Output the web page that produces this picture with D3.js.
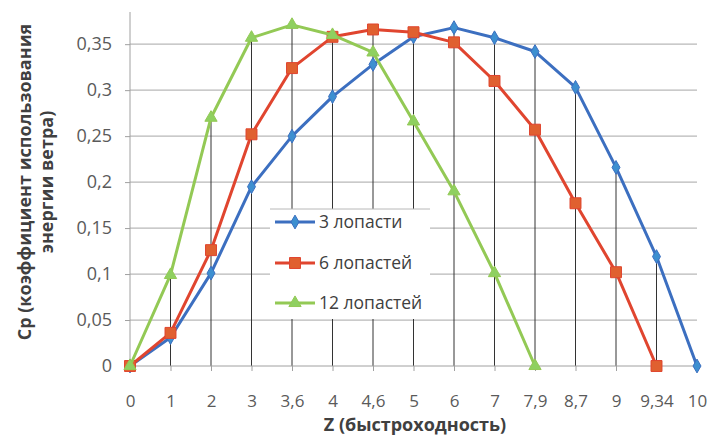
<!DOCTYPE html>
<html><head><meta charset="utf-8">
<script src="https://cdn.jsdelivr.net/npm/d3@7"></script>
<style>body{margin:0;background:#fff}svg{display:block}text{font-family:"Open Sans","Liberation Sans",sans-serif}</style>
</head><body><svg id="c" width="713" height="435"></svg>
<script>
const categories = ["0","1","2","3","3,6","4","4,6","5","6","7","7,9","8,7","9","9,34","10"];
const blades3  = [0,0.031,0.101,0.195,0.25,0.293,0.328,0.358,0.368,0.357,0.342,0.303,0.216,0.119,0];
const blades6  = [0,0.036,0.126,0.252,0.324,0.358,0.366,0.363,0.352,0.31,0.257,0.177,0.102,0,null];
const blades12 = [0,0.099,0.27,0.357,0.371,0.36,0.341,0.266,0.19,0.101,0,null,null,null,null];
const yTicks = [0,0.05,0.1,0.15,0.2,0.25,0.3,0.35];
const yTickLabels = ["0","0,05","0,1","0,15","0,2","0,25","0,3","0,35"];
const seriesNames = ["3 лопасти","6 лопастей","12 лопастей"];
const seriesColors = ["#3c6fc0","#e0452f","#93c955"];
const markerColors = ["#3d8fd0","#e06030","#8fd060"];
const seriesData = [blades3, blades6, blades12];

const svg = d3.select("#c");
const x = d3.scalePoint().domain(categories).range([130, 697]);
const y = d3.scaleLinear().domain([0, 0.385]).range([366, 12]);

// horizontal gridlines
svg.append("g").selectAll("line").data(yTicks.slice(1)).join("line")
  .attr("x1", 130).attr("x2", 697).attr("y1", d=>y(d)).attr("y2", d=>y(d))
  .attr("stroke", "#b8b8b8").attr("stroke-width", 1.2);

// drop lines
const maxv = categories.map((c,i)=>d3.max(seriesData, s=>s[i]));
svg.append("g").selectAll("line").data(categories).join("line")
  .attr("x1", d=>x(d)).attr("x2", d=>x(d)).attr("y1", (d,i)=>y(maxv[i])).attr("y2", y(0))
  .attr("stroke", "#333").attr("stroke-width", 1);

// y axis
const ya = d3.axisLeft(y).tickValues(yTicks).tickFormat((d,i)=>yTickLabels[i]).tickSize(5).tickPadding(13);
const yg = svg.append("g").attr("transform","translate(130,0)").call(ya);
yg.select(".domain").remove();
yg.append("line").attr("x1",0).attr("x2",0).attr("y1",12).attr("y2",366).attr("stroke","#a0a0a0");
yg.selectAll(".tick line").attr("stroke","#a0a0a0");
yg.selectAll(".tick text").attr("fill","#5a5a5a").style("font-size","18px");

// x axis
const xa = d3.axisBottom(x).tickSize(5).tickPadding(24);
const xg = svg.append("g").attr("transform","translate(0,366)").call(xa);
xg.select(".domain").remove();
xg.append("line").attr("x1",130).attr("x2",697).attr("stroke","#a0a0a0");
xg.selectAll(".tick line").attr("stroke","#a0a0a0");
xg.selectAll(".tick text").attr("fill","#5a5a5a").style("font-size","17px");

// series lines
const line = d3.line().defined(d=>d.v!=null).x(d=>x(d.c)).y(d=>y(d.v));
const sym = [d3.symbolDiamond, d3.symbolSquare, d3.symbolTriangle];
const symSize = [55, 120, 65];
seriesData.forEach((s,k)=>{
  const pts = categories.map((c,i)=>({c, v:s[i]})).filter(d=>d.v!=null);
  svg.append("path").datum(pts).attr("d", line).attr("fill","none")
    .attr("stroke", seriesColors[k]).attr("stroke-width", 3).attr("stroke-linejoin","round");
  svg.append("g").selectAll("path").data(pts).join("path")
    .attr("transform", d=>`translate(${x(d.c)},${y(d.v)})`)
    .attr("d", d3.symbol().type(sym[k]).size(symSize[k]))
    .attr("fill", markerColors[k]).attr("stroke", seriesColors[k]).attr("stroke-width",1);
});

// legend
const lg = svg.append("g");
lg.append("rect").attr("x",270).attr("y",209).attr("width",160).attr("height",110).attr("fill","#fff");
lg.append("line").attr("x1",270).attr("x2",430).attr("y1",209).attr("y2",209).attr("stroke","#b8b8b8");
const ly = [222, 263, 303];
seriesNames.forEach((n,k)=>{
  lg.append("line").attr("x1",275).attr("x2",315).attr("y1",ly[k]).attr("y2",ly[k])
    .attr("stroke",seriesColors[k]).attr("stroke-width",3);
  lg.append("path").attr("transform",`translate(295,${ly[k]})`)
    .attr("d", d3.symbol().type(sym[k]).size(symSize[k]))
    .attr("fill", markerColors[k]).attr("stroke", seriesColors[k]);
  lg.append("text").attr("x",319).attr("y",ly[k]).attr("dy","0.35em")
    .attr("fill","#404040").style("font-size","17.5px").text(n);
});

// axis titles
svg.append("text").attr("x",415).attr("y",431).attr("text-anchor","middle")
  .attr("fill","#404040").style("font-size","18px").style("font-weight","bold").text("Z (быстроходность)");
const yt = svg.append("text").attr("transform","translate(0,182) rotate(-90)")
  .attr("text-anchor","middle").attr("fill","#404040").style("font-size","18px").style("font-weight","bold");
yt.append("tspan").attr("x",0).attr("y",31).text("Ср (коэффициент использования");
yt.append("tspan").attr("x",0).attr("y",53).text("энергии ветра)");
</script></body></html>
